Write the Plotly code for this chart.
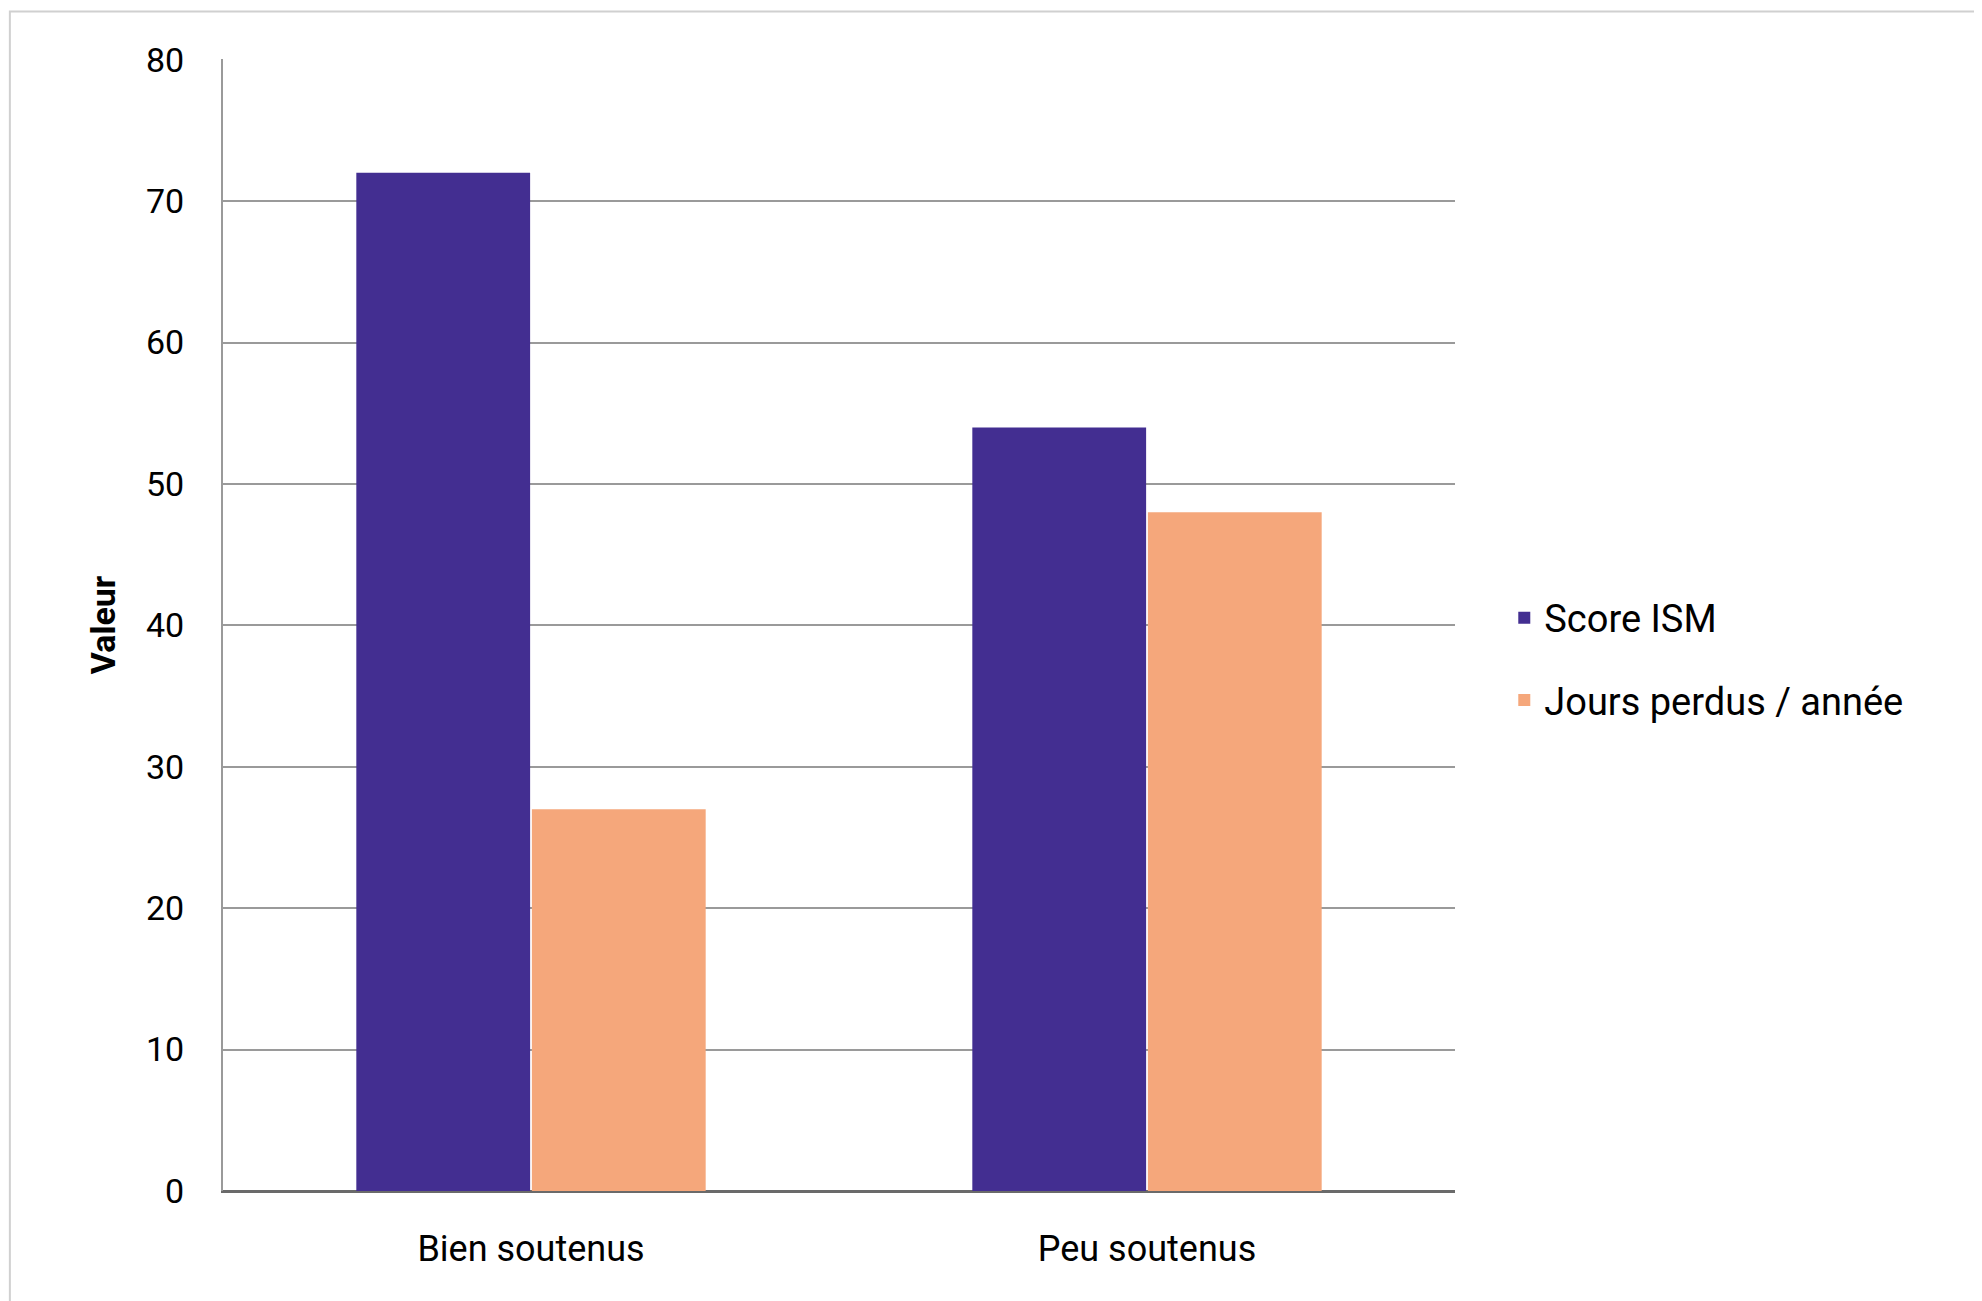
import plotly.graph_objects as go

categories = ["Bien soutenus", "Peu soutenus"]
score_ism = [72, 54]
jours_perdus = [27, 48]
y_ticks = [0, 10, 20, 30, 40, 50, 60, 70, 80]

fig = go.Figure()
fig.add_trace(go.Bar(x=categories, y=score_ism, name="Score ISM", legendgroup="a",
                     marker_color="#432e91", marker_line_width=0))
fig.add_trace(go.Bar(x=categories, y=jours_perdus, name="Jours perdus / année", legendgroup="b",
                     marker_color="#f5a77b", marker_line_width=0))

fig.update_layout(
    width=1982, height=1301,
    barmode="group", bargap=0.43, bargroupgap=0.01,
    plot_bgcolor="white", paper_bgcolor="white",
    font=dict(family="Roboto", size=34, color="black"),
    margin=dict(l=215, r=535, t=51, b=118),
    legend=dict(x=1.04, y=0.47, xanchor="left", yanchor="middle",
                font=dict(size=38), traceorder="grouped", tracegroupgap=30),
    shapes=[dict(type="rect", xref="paper", yref="paper",
                 x0=-0.173, x1=1.432, y0=-0.11, y1=1.042,
                 line=dict(color="#d0d0d0", width=2))],
)
fig.update_yaxes(range=[0, 80.05], tickvals=y_ticks, showgrid=True,
                 gridcolor="#9a9a9a", gridwidth=2, showline=True,
                 linecolor="#9a9a9a", linewidth=2, zeroline=True,
                 zerolinecolor="#6a6a6a", zerolinewidth=2,
                 ticklabelstandoff=30,
                 title=dict(text="<b>Valeur</b>", font=dict(size=34), standoff=20))
fig.update_xaxes(showline=True, linecolor="#6a6a6a", linewidth=2,
                 tickfont=dict(size=36), ticklabelstandoff=25)

fig.write_html("out.html")
